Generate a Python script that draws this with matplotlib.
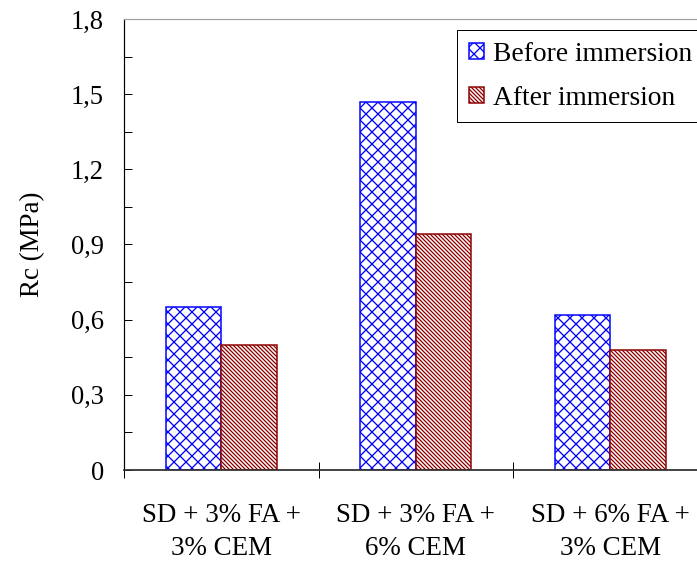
import matplotlib
matplotlib.use("Agg")
import matplotlib.pyplot as plt
import numpy as np
from matplotlib.ticker import MultipleLocator, FixedLocator, FuncFormatter

categories = ["SD + 3% FA +\n3% CEM", "SD + 3% FA +\n6% CEM", "SD + 6% FA +\n3% CEM"]
before = [0.65, 1.47, 0.62]
after = [0.50, 0.94, 0.48]
series_names = ["Before immersion", "After immersion"]
y_ticks = [0, 0.3, 0.6, 0.9, 1.2, 1.5, 1.8]

plt.rcParams['font.family'] = ['Liberation Serif', 'DejaVu Serif']
plt.rcParams['hatch.linewidth'] = 1.3

DPI = 72
fig = plt.figure(figsize=(697 / DPI, 561 / DPI), dpi=DPI)
ax = fig.add_axes([124 / 697, 1 - 470 / 561, 583.5 / 697, 451 / 561])

x = np.arange(len(categories))
w = 0.285
blue = '#0000FF'
red = '#8E0000'
ax.bar(x - w / 2, before, w, facecolor='white', edgecolor=blue, hatch='xx',
       linewidth=1.5, label=series_names[0])
ax.bar(x + w / 2, after, w, facecolor='white', edgecolor=red, hatch='\\\\\\\\\\\\',
       linewidth=1.5, label=series_names[1])

ax.set_xlim(-0.5, 2.5)
ax.set_ylim(0, 1.8)

ax.yaxis.set_major_locator(FixedLocator(y_ticks))
ax.yaxis.set_minor_locator(MultipleLocator(0.15))
ax.yaxis.set_major_formatter(FuncFormatter(lambda v, p: "0" if abs(v) < 1e-9 else f"{v:.1f}".replace('.', ',')))
ax.tick_params(axis='y', which='both', direction='in', length=8, width=1, labelsize=26.5, pad=20, right=False)

ax.set_xticks(x)
ax.set_xticklabels(categories, fontsize=27, linespacing=1.42)
ax.set_xticks([-0.5, 0.5, 1.5, 2.5], minor=True)
ax.tick_params(axis='x', which='major', length=0, pad=33)
ax.tick_params(axis='x', which='minor', direction='inout', length=16, width=1)

ax.set_ylabel("Rc (MPa)", fontsize=27, labelpad=26)

ax.spines['top'].set_color('#a0a0a0')
ax.spines['top'].set_linewidth(1.2)
ax.spines['left'].set_linewidth(1.2)
ax.spines['bottom'].set_linewidth(1.8)
ax.spines['bottom'].set_color('#333333')

leg = fig.legend(loc='upper left', bbox_to_anchor=(457 / 697, 1 - 30 / 561),
                 fontsize=27.5, frameon=True, fancybox=False, framealpha=1,
                 edgecolor='black', handlelength=0.55, handleheight=0.55,
                 handletextpad=0.35, borderpad=0.42, labelspacing=0.7, borderaxespad=0)
leg.get_frame().set_linewidth(1.0)

fig.savefig("out.png", dpi=DPI)
